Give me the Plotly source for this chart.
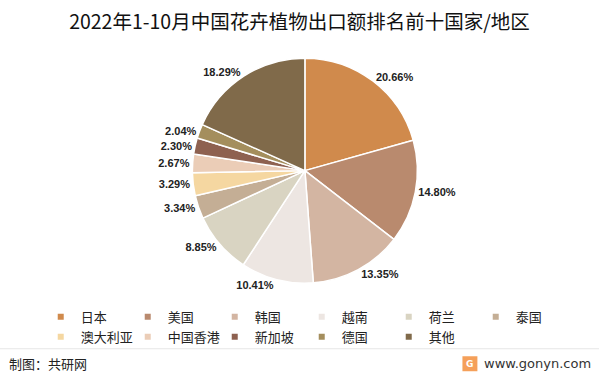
import plotly.graph_objects as go

categories = ["日本", "美国", "韩国", "越南", "荷兰", "泰国", "澳大利亚", "中国香港", "新加坡", "德国", "其他"]
shares = [20.66, 14.80, 13.35, 10.41, 8.85, 3.34, 3.29, 2.67, 2.30, 2.04, 18.29]
colors = ["#D08A4C", "#B98A6E", "#D3B5A2", "#EDE6E2", "#D9D4C2", "#C4AE95",
          "#F5D7A1", "#EBCDB7", "#8E6150", "#A48E5D", "#806A4A"]

FONT = "Noto Sans CJK SC"

fig = go.Figure()
fig.add_trace(go.Pie(
    labels=categories,
    values=shares,
    sort=False,
    direction="clockwise",
    rotation=0,
    marker=dict(colors=colors, line=dict(color="white", width=1.5)),
    texttemplate="%{value:.2f}%",
    textposition="outside",
    textfont=dict(family="Liberation Sans, Arial", size=11, color="#222222", weight="bold"),
    hoverinfo="label+value",
    showlegend=False,
    domain=dict(x=[0.317, 0.701], y=[0.245, 0.845]),
))

# legend entries with small square swatches
for name, col in zip(categories, colors):
    fig.add_trace(go.Scatter(
        x=[None], y=[None], mode="markers", name=name,
        marker=dict(symbol="square", size=6, color=col),
        showlegend=True, hoverinfo="skip",
    ))

fig.update_layout(
    width=599, height=375,
    margin=dict(l=0, r=0, t=0, b=0),
    paper_bgcolor="white",
    plot_bgcolor="white",
    font=dict(family=FONT, color="#222222"),
    xaxis=dict(visible=False),
    yaxis=dict(visible=False),
    title=dict(text="2022年1-10月中国花卉植物出口额排名前十国家/地区",
               x=0.5, xanchor="center", y=0.94, yanchor="middle",
               font=dict(family=FONT, size=19.5, color="#111111")),
    legend=dict(orientation="h", x=0.068, xanchor="left", y=0.195, yanchor="top",
                entrywidth=42, entrywidthmode="pixels",
                font=dict(family=FONT, size=13, color="#222222"),
                traceorder="normal", itemwidth=30, tracegroupgap=0,
                bgcolor="rgba(0,0,0,0)"),
    shapes=[
        dict(type="line", xref="paper", yref="paper", x0=0, x1=1, y0=0.07, y1=0.07,
             line=dict(color="#E6E6E6", width=1)),
        dict(type="rect", xref="paper", yref="paper", x0=0.772, x1=0.797, y0=0.01, y1=0.05,
             fillcolor="#F5A05A", line=dict(width=0)),
    ],
    annotations=[
        dict(text="制图：共研网", xref="paper", yref="paper", x=0.012, y=0.03,
             xanchor="left", yanchor="middle", showarrow=False,
             font=dict(family=FONT, size=13, color="#222222")),
        dict(text="G", xref="paper", yref="paper", x=0.7845, y=0.03,
             xanchor="center", yanchor="middle", showarrow=False,
             font=dict(family="DejaVu Sans", size=9, color="white", weight="bold")),
        dict(text="www.gonyn.com", xref="paper", yref="paper", x=0.99, y=0.03,
             xanchor="right", yanchor="middle", showarrow=False,
             font=dict(family="DejaVu Sans", size=13, color="#333333")),
    ],
)

fig.write_html("out.html", config={"displayModeBar": False},
               post_script="document.body.style.margin='0';")
